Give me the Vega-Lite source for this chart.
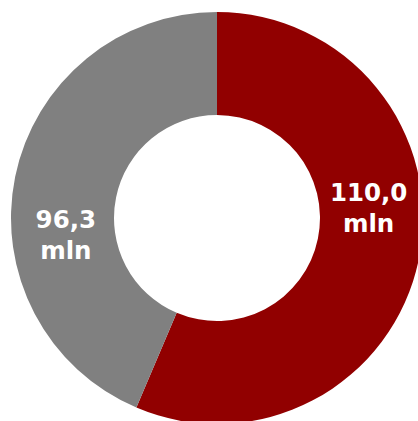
{
  "$schema": "https://vega.github.io/schema/vega-lite/v6.json",
  "width": 402,
  "height": 406,
  "autosize": "none",
  "padding": {"left": 16, "top": 15, "right": 0, "bottom": 0},
  "background": "white",
  "config": {"view": {"stroke": null}},
  "datasets": {
    "slices": [
      {"segment": "110,0 mln", "share": 56.4, "ord": 1},
      {"segment": "96,3 mln", "share": 43.6, "ord": 2}
    ],
    "labels": [
      {"label": "110,0\nmln", "angle": 86},
      {"label": "96,3\nmln", "angle": 264}
    ]
  },
  "layer": [
    {
      "data": {"name": "slices"},
      "mark": {"type": "arc", "radius": 206, "innerRadius": 103, "strokeWidth": 0},
      "encoding": {
        "theta": {"field": "share", "type": "quantitative", "stack": true},
        "order": {"field": "ord", "type": "quantitative"},
        "color": {
          "field": "segment",
          "type": "nominal",
          "scale": {"domain": ["110,0 mln", "96,3 mln"], "range": ["#910000", "#808080"]},
          "legend": null
        }
      }
    },
    {
      "data": {"name": "labels"},
      "mark": {
        "type": "text",
        "radius": 152,
        "dy": -13,
        "font": "DejaVu Sans",
        "fontWeight": "bold",
        "fontSize": 24.5,
        "lineHeight": 31,
        "lineBreak": "\n",
        "color": "white",
        "align": "center",
        "baseline": "middle"
      },
      "encoding": {
        "theta": {"field": "angle", "type": "quantitative", "stack": null, "scale": {"domain": [0, 360]}},
        "text": {"field": "label", "type": "nominal"}
      }
    }
  ],
  "resolve": {"scale": {"theta": "independent"}}
}
